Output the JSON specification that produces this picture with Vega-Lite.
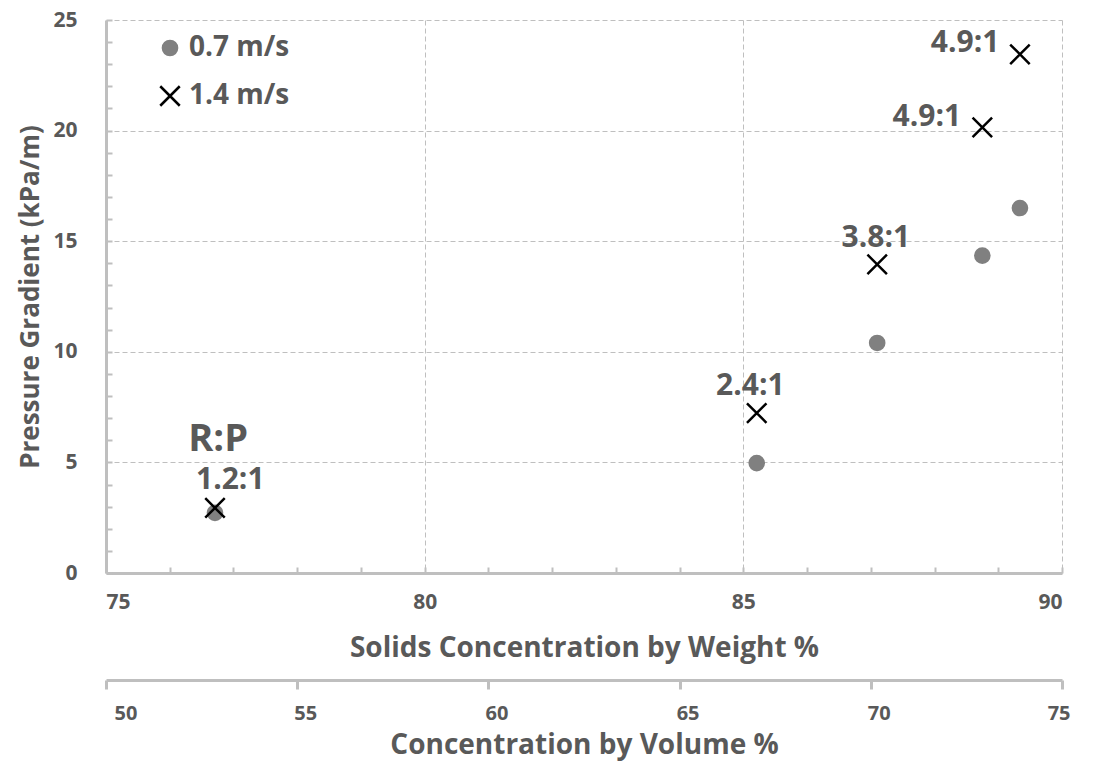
{
  "$schema": "https://vega.github.io/schema/vega-lite/v6.json",
  "width": 956,
  "height": 553,
  "autosize": {"type": "none"},
  "padding": {"left": 106, "top": 20, "right": 31, "bottom": 190},
  "background": "white",
  "config": {
    "font": "Open Sans",
    "view": {"stroke": null},
    "axis": {
      "domainColor": "#bfbfbf",
      "domainWidth": 3,
      "tickColor": "#bfbfbf",
      "tickWidth": 2,
      "labelColor": "#595959",
      "labelFont": "Open Sans",
      "labelFontSize": 21,
      "labelFontWeight": "bold",
      "labelOverlap": false,
      "labelBound": false,
      "titleColor": "#595959",
      "titleFont": "Open Sans",
      "titleFontSize": 28,
      "titleFontWeight": "bold",
      "gridColor": "#bfbfbf",
      "gridDash": [5, 3],
      "gridWidth": 1
    }
  },
  "layer": [
    {
      "encoding": {
        "x": {
          "field": "w",
          "type": "quantitative",
          "scale": {"domain": [75, 90], "nice": false, "zero": false},
          "axis": {
            "title": "Solids Concentration by Weight %",
            "values": [75,76,77,78,79,80,81,82,83,84,85,86,87,88,89,90],
            "format": "d",
            "labelExpr": "datum.value % 5 === 0 ? datum.label : ''",
            "grid": true,
            "gridOpacity": {"condition": {"test": "datum.value % 5 === 0 && datum.value > 75", "value": 1}, "value": 0},
            "tickSize": -6,
            "labelPadding": 24,
            "titlePadding": 22
          }
        },
        "y": {
          "field": "p",
          "type": "quantitative",
          "scale": {"domain": [0, 25], "nice": false},
          "axis": {
            "title": "Pressure Gradient (kPa/m)",
            "titleFontSize": 26,
            "values": [0,1,2,3,4,5,6,7,8,9,10,11,12,13,14,15,16,17,18,19,20,21,22,23,24,25],
            "format": "d",
            "labelExpr": "datum.value % 5 === 0 ? datum.label : ''",
            "grid": true,
            "gridOpacity": {"condition": {"test": "datum.value % 5 === 0 && datum.value > 0", "value": 1}, "value": 0},
            "tickSize": -6,
            "labelPadding": 35,
            "titlePadding": 9
          }
        }
      },
      "layer": [
        {
          "data": {
            "values": [
              {"w": 76.71, "p": 2.72, "s": "0.7 m/s"},
              {"w": 85.21, "p": 4.97, "s": "0.7 m/s"},
              {"w": 87.1, "p": 10.4, "s": "0.7 m/s"},
              {"w": 88.75, "p": 14.35, "s": "0.7 m/s"},
              {"w": 89.34, "p": 16.5, "s": "0.7 m/s"},
              {"w": 76.71, "p": 2.94, "s": "1.4 m/s"},
              {"w": 85.21, "p": 7.23, "s": "1.4 m/s"},
              {"w": 87.1, "p": 13.95, "s": "1.4 m/s"},
              {"w": 88.75, "p": 20.15, "s": "1.4 m/s"},
              {"w": 89.34, "p": 23.45, "s": "1.4 m/s"}
            ]
          },
          "mark": {"type": "point", "strokeWidth": 2.5, "opacity": 1},
          "encoding": {
            "shape": {
              "field": "s",
              "type": "nominal",
              "scale": {"domain": ["0.7 m/s", "1.4 m/s"], "range": ["circle", "M-1,-1L1,1M-1,1L1,-1"]},
              "legend": {
                "title": null,
                "orient": "none",
                "legendX": 50,
                "legendY": 14,
                "labelFontSize": 28,
                "labelFontWeight": "bold",
                "labelColor": "#595959",
                "labelFont": "Open Sans",
                "rowPadding": 19,
                "symbolStrokeWidth": 2.5,
                "labelOffset": 5
              }
            },
            "fill": {
              "field": "s",
              "type": "nominal",
              "scale": {"domain": ["0.7 m/s", "1.4 m/s"], "range": ["#808080", "rgba(0,0,0,0)"]}
            },
            "stroke": {
              "field": "s",
              "type": "nominal",
              "scale": {"domain": ["0.7 m/s", "1.4 m/s"], "range": ["#808080", "#000000"]}
            },
            "size": {
              "field": "s",
              "type": "nominal",
              "scale": {"domain": ["0.7 m/s", "1.4 m/s"], "range": [200, 380]}
            }
          }
        },
        {
          "data": {
            "values": [
              {"w": 76.95, "p": 4.2, "t": "1.2:1"},
              {"w": 85.11, "p": 8.45, "t": "2.4:1"},
              {"w": 87.08, "p": 15.15, "t": "3.8:1"},
              {"w": 87.88, "p": 20.6, "t": "4.9:1"},
              {"w": 88.48, "p": 23.96, "t": "4.9:1"}
            ]
          },
          "mark": {"type": "text", "fontSize": 30, "fontWeight": "bold", "color": "#595959", "baseline": "middle", "align": "center", "font": "Open Sans"},
          "encoding": {
            "text": {"field": "t"}
          }
        },
        {
          "data": {"values": [{"w": 76.76, "p": 6.01, "t": "R:P"}]},
          "mark": {"type": "text", "fontSize": 38, "fontWeight": "bold", "color": "#595959", "baseline": "middle", "align": "center", "font": "Open Sans"},
          "encoding": {
            "text": {"field": "t"}
          }
        }
      ]
    },
    {
      "data": {"values": [{"v": 50}, {"v": 75}]},
      "mark": {"type": "point", "opacity": 0},
      "encoding": {
        "x": {
          "field": "v",
          "type": "quantitative",
          "scale": {"domain": [50, 75], "nice": false, "zero": false},
          "axis": {
            "orient": "bottom",
            "offset": 107,
            "title": "Concentration by Volume %",
            "values": [50, 55, 60, 65, 70, 75],
            "grid": false,
            "tickSize": 9,
            "tickWidth": 3,
            "labelFontSize": 20,
            "labelPadding": 14,
            "labelOffset": 8,
            "titlePadding": 8
          }
        }
      }
    }
  ],
  "resolve": {"scale": {"x": "independent"}, "axis": {"x": "independent"}}
}
